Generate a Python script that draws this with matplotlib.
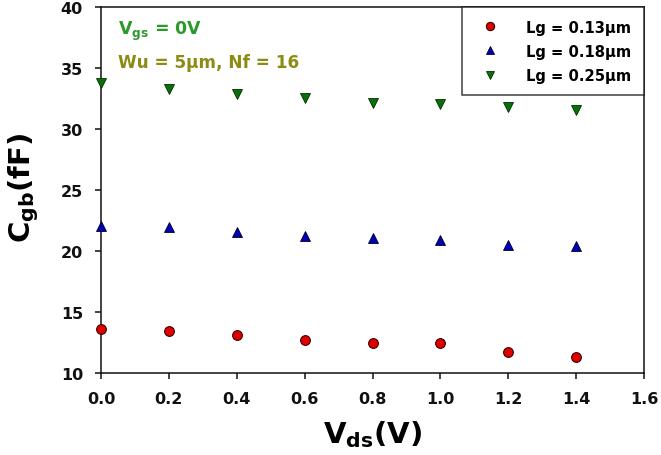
import matplotlib
matplotlib.use('Agg')
import matplotlib.pyplot as plt

plt.rcParams['font.family'] = ['DejaVu Sans']
plt.rcParams['font.weight'] = 'bold'
plt.rcParams['mathtext.fontset'] = 'dejavusans'
plt.rcParams['mathtext.default'] = 'bf'

# data
vds = [0.0, 0.2, 0.4, 0.6, 0.8, 1.0, 1.2, 1.4]
cgb_013 = [13.62, 13.43, 13.14, 12.73, 12.46, 12.46, 11.76, 11.35]
cgb_018 = [22.02, 21.94, 21.57, 21.27, 21.08, 20.88, 20.47, 20.39]
cgb_025 = [33.73, 33.24, 32.83, 32.56, 32.15, 32.01, 31.80, 31.55]
labels = ['Lg = 0.13\u03bcm', 'Lg = 0.18\u03bcm', 'Lg = 0.25\u03bcm']
xticks = [0.0, 0.2, 0.4, 0.6, 0.8, 1.0, 1.2, 1.4, 1.6]
yticks = [10, 15, 20, 25, 30, 35, 40]

fig = plt.figure(figsize=(6.61, 4.56), dpi=100)
ax = fig.add_axes([101 / 661, 82 / 456, 543 / 661, 366 / 456])

ax.plot(vds, cgb_013, 'o', color='#e00000', mec='#3a0000', mew=0.8, ms=7,
        label=labels[0], clip_on=False, zorder=3)
ax.plot(vds, cgb_018, '^', color='#0000b0', mec='#000030', mew=0.6, ms=7,
        label=labels[1], clip_on=False, zorder=3)
ax.plot(vds, cgb_025, 'v', color='#0a6e0a', mec='#003000', mew=0.6, ms=7,
        label=labels[2], clip_on=False, zorder=3)

ax.set_xlim(0, 1.6)
ax.set_ylim(10, 40)
ax.set_xticks(xticks)
ax.set_xticklabels([f'{t:.1f}' for t in xticks])
ax.set_yticks(yticks)
ax.tick_params(direction='out', length=4, width=1.1, labelsize=11.5, pad=9,
               top=False, right=False, colors='#111111')
for lab in ax.get_xticklabels() + ax.get_yticklabels():
    lab.set_fontweight('bold')
for sp in ax.spines.values():
    sp.set_linewidth(1.1)
    sp.set_color('#111111')

ax.set_xlabel('V$_{ds}$(V)', fontsize=21, fontweight='bold')
ax.set_ylabel('C$_{gb}$(fF)', fontsize=21, fontweight='bold')
ax.xaxis.set_label_coords(0.5, -0.123)
ax.yaxis.set_label_coords(-0.111, 0.51)

ax.text(0.031, 0.926, 'V$_{gs}$ = 0V', transform=ax.transAxes,
        color='#2a9a2a', fontsize=12.5, fontweight='bold', va='baseline')
ax.text(0.031, 0.836, 'Wu = 5\u03bcm, Nf = 16', transform=ax.transAxes,
        color='#8c8c14', fontsize=12.2, fontweight='bold', va='baseline')

leg = ax.legend(loc='upper right', bbox_to_anchor=(1.0, 1.0), fontsize=10.6,
                frameon=True, fancybox=False, borderaxespad=0,
                handletextpad=1.5, borderpad=0.85, labelspacing=0.62,
                markerscale=0.85, handlelength=2.0)
leg.get_frame().set_edgecolor('#111111')
leg.get_frame().set_linewidth(1.1)
for t in leg.get_texts():
    t.set_fontweight('bold')

fig.savefig('out.png', dpi=100)
